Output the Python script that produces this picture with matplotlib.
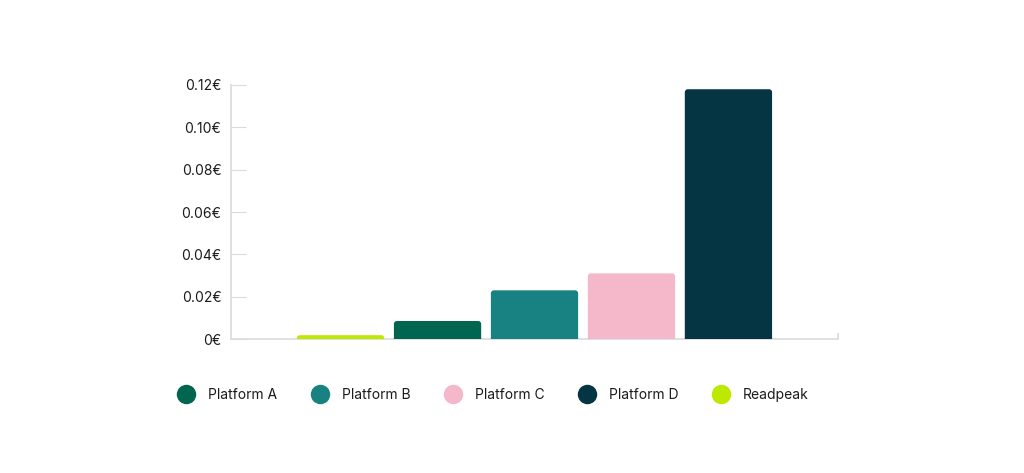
import matplotlib.pyplot as plt
from matplotlib.patches import FancyBboxPatch
from matplotlib.lines import Line2D

# Data (cost per read, EUR)
bar_order = ["Readpeak", "Platform A", "Platform B", "Platform C", "Platform D"]
bar_values = [0.0018, 0.0085, 0.023, 0.031, 0.118]
bar_colors = ["#BDE800", "#00664F", "#178281", "#F5B8CB", "#053542"]

legend_order = ["Platform A", "Platform B", "Platform C", "Platform D", "Readpeak"]
y_ticks = [0, 0.02, 0.04, 0.06, 0.08, 0.10, 0.12]
y_tick_labels = ["0€", "0.02€", "0.04€", "0.06€", "0.08€", "0.10€", "0.12€"]

plt.rcParams['font.family'] = ['Inter', 'DejaVu Sans']
text_color = "#1b1b1b"
grid_color = "#d9dcdc"

fig = plt.figure(figsize=(10.24, 4.73), dpi=100)
ax = fig.add_axes([231 / 1024, 134 / 473, 607 / 1024, 254 / 473])

xmin, xmax = -1.13, 5.13
ymin, ymax = 0, 0.12
ax.set_xlim(xmin, xmax)
ax.set_ylim(ymin, ymax)

# rounded bars, extended below zero so only the top corners show
bar_width = 0.9
px_x = 607 / (xmax - xmin)
px_y = 254 / (ymax - ymin)
rad_px = 3
r_x = rad_px / px_x
r_y = rad_px / px_y
for i, (name, val, col) in enumerate(zip(bar_order, bar_values, bar_colors)):
    patch = FancyBboxPatch((i - bar_width / 2, -r_y * 2), bar_width, val + r_y * 2,
                           boxstyle=f"round,pad=0,rounding_size={r_x}",
                           mutation_aspect=r_y / r_x,
                           facecolor=col, edgecolor="none", zorder=3)
    patch.set_clip_on(True)
    ax.add_patch(patch)

# axes styling
for s in ["top", "right"]:
    ax.spines[s].set_visible(False)
for s in ["left", "bottom"]:
    ax.spines[s].set_color(grid_color)
    ax.spines[s].set_linewidth(1.2)

ax.set_yticks(y_ticks)
ax.set_yticklabels(y_tick_labels)
ax.tick_params(axis="y", direction="in", length=11, width=0.8, color=grid_color,
               pad=7, labelsize=10, labelcolor=text_color)
ax.set_xticks([xmax])
ax.set_xticklabels([""])
ax.tick_params(axis="x", direction="in", length=4, width=1.2, color=grid_color)

# legend
handles = [Line2D([0], [0], marker="o", linestyle="none", markersize=14,
                  markerfacecolor=bar_colors[bar_order.index(n)], markeredgecolor="none")
           for n in legend_order]
leg = fig.legend(handles, legend_order, loc="center left", bbox_to_anchor=(171 / 1024, 1 - 395 / 473),
                 ncol=5, frameon=False, fontsize=10, handletextpad=1.0, columnspacing=2.43,
                 handlelength=1.2, borderpad=0)
for t in leg.get_texts():
    t.set_color(text_color)

fig.savefig("out.png", dpi=100, facecolor="white")
